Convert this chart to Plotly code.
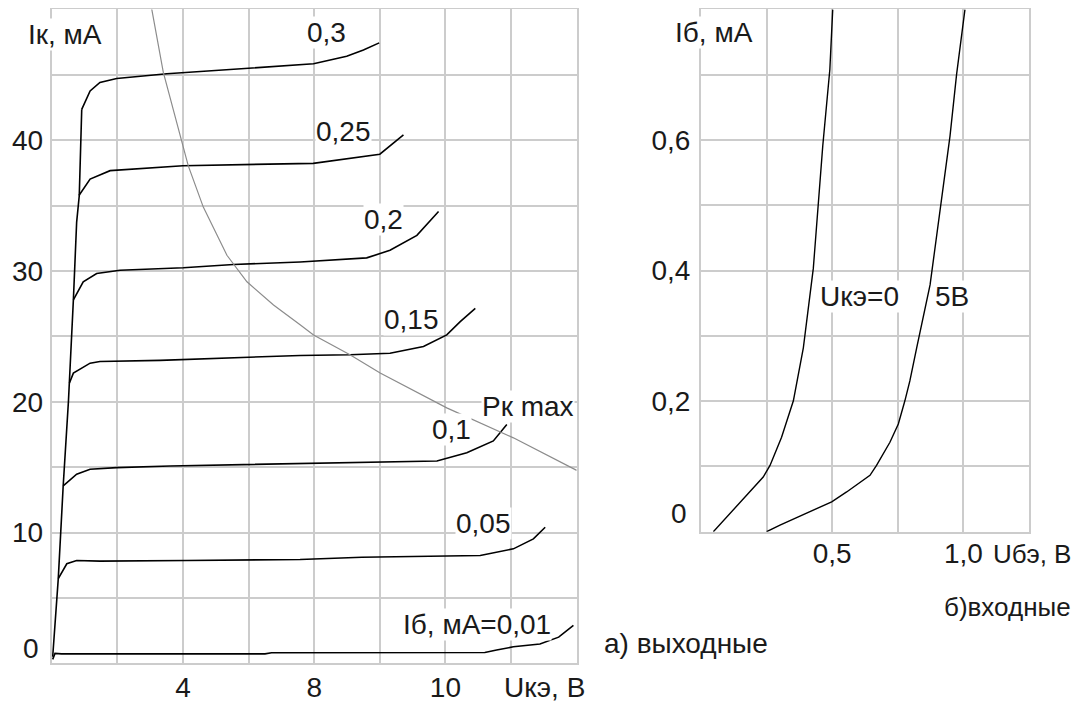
"""
Transistor characteristics: output (Ic vs Uce) and input (Ib vs Ube) curves.
"""
import plotly.graph_objects as go

FONT = "Liberation Sans, Arial, sans-serif"
FS = 28
GRID = "#cccccc"
INK = "#1a1a1a"

# ── Output characteristics (left) ────────────────────────────────────────────
# Uce in V (grid step 2 V), Ic in mA
steep_u = [0.03, 0.20, 0.35, 0.51, 0.66, 0.76, 0.84, 0.915]
steep_i = [0.5, 6.47, 13.57, 20.04, 27.78, 33.74, 35.77, 42.36]

ib001_u = [0.03, 0.10, 0.30, 6.5, 6.7, 13.2, 13.56, 14.07, 14.88, 15.45, 15.9]
ib001_i = [0.3, 0.76, 0.72, 0.72, 0.80, 0.82, 1.01, 1.26, 1.48, 2.0, 2.9]

ib005_u = [0.20, 0.46, 0.76, 1.47, 4.12, 7.57, 9.45, 13.06, 14.07, 14.68, 15.04]
ib005_i = [6.47, 7.61, 7.86, 7.81, 7.86, 7.94, 8.11, 8.24, 8.75, 9.51, 10.40]

ib01_u = [0.35, 0.76, 1.17, 1.98, 3.61, 6.86, 10.01, 11.74, 12.65, 13.46, 13.87]
ib01_i = [13.57, 14.46, 14.84, 14.96, 15.09, 15.22, 15.40, 15.47, 16.10, 17.0, 18.26]

ib015_u = [0.54, 0.66, 1.17, 1.47, 3.30, 5.44, 7.57, 9.09, 10.31, 11.33, 12.04, 12.45, 12.91]
ib015_i = [21.43, 22.19, 22.95, 23.08, 23.16, 23.33, 23.54, 23.59, 23.71, 24.22, 25.11, 26.13, 27.14]

ib02_u = [0.66, 0.96, 1.37, 2.08, 4.01, 5.54, 7.57, 8.99, 9.60, 10.31, 11.13, 11.79]
ib02_i = [27.78, 29.17, 29.80, 30.06, 30.24, 30.49, 30.69, 30.90, 31.0, 31.58, 32.72, 34.55]

ib025_u = [0.83, 1.17, 1.78, 4.0, 7.97, 10.0, 10.72]
ib025_i = [35.77, 37.03, 37.67, 38.05, 38.23, 38.93, 40.41]

ib03_u = [0.915, 1.17, 1.47, 1.98, 3.51, 7.57, 7.98, 8.99, 9.5, 9.98]
ib03_i = [42.36, 43.76, 44.42, 44.72, 45.08, 45.78, 45.84, 46.42, 46.9, 47.44]

pk_u = [2.95, 3.05, 3.40, 4.16, 4.62, 5.34, 5.95, 6.76, 7.57, 7.98, 9.09, 10.01, 12.04, 13.36, 14.07, 16.0]
pk_i = [51.0, 50.0, 45.2, 38.05, 34.88, 31.2, 29.17, 27.40, 25.88, 25.11, 23.59, 22.19, 19.53, 18.0, 17.24, 14.75]

out_curves = [
    (steep_u, steep_i), (ib001_u, ib001_i), (ib005_u, ib005_i), (ib01_u, ib01_i),
    (ib015_u, ib015_i), (ib02_u, ib02_i), (ib025_u, ib025_i), (ib03_u, ib03_i),
]

out_x_grid = [0, 2, 4, 6, 8, 10, 12, 14, 16]
out_x_text = ["", "", "4", "", "8", "", "10", "", ""]
out_y_grid = [0, 5, 10, 15, 20, 25, 30, 35, 40, 45, 50]
out_y_text = ["", "", "10", "", "20", "", "30", "", "40", "", ""]

# ── Input characteristics (right) ────────────────────────────────────────────
# Ube in V (grid step 0.25 V), Ib in mA
uce0_u = [0.047, 0.237, 0.263, 0.307, 0.352, 0.39, 0.428, 0.464, 0.491, 0.502]
uce0_i = [0.0, 0.0837, 0.1015, 0.1446, 0.2005, 0.2816, 0.4033, 0.591, 0.708, 0.80]

uce5_u = [0.25, 0.301, 0.498, 0.555, 0.644, 0.669, 0.72, 0.752, 0.777, 0.796, 0.822, 0.873, 0.949, 0.974, 1.006]
uce5_i = [0.0, 0.0102, 0.0457, 0.0609, 0.0863, 0.1015, 0.137, 0.165, 0.2005, 0.231, 0.2816, 0.378, 0.606, 0.700, 0.80]

in_x_grid = [0, 0.25, 0.5, 0.75, 1.0, 1.25]
in_x_text = ["", "", "0,5", "", "1,0", ""]
in_y_grid = [0, 0.1, 0.2, 0.3, 0.4, 0.5, 0.6, 0.7, 0.8]
in_y_text = ["", "", "0,2", "", "0,4", "", "0,6", "", ""]

fig = go.Figure()

for u, i in out_curves:
    fig.add_trace(go.Scatter(x=u, y=i, mode="lines", xaxis="x", yaxis="y",
                             line=dict(color="black", width=1.6),
                             showlegend=False, hoverinfo="skip"))
fig.add_trace(go.Scatter(x=pk_u, y=pk_i, mode="lines", xaxis="x", yaxis="y",
                         line=dict(color="#8c8c8c", width=1.2),
                         showlegend=False, hoverinfo="skip"))

for u, i in [(uce0_u, uce0_i), (uce5_u, uce5_i)]:
    fig.add_trace(go.Scatter(x=u, y=i, mode="lines", xaxis="x2", yaxis="y2",
                             line=dict(color="black", width=1.4),
                             showlegend=False, hoverinfo="skip"))


def _axis(domain, rng, vals, text, anchor, standoff):
    return dict(
        domain=domain, range=rng, anchor=anchor, automargin=False,
        tickmode="array", tickvals=vals, ticktext=text, ticks="",
        ticklabelstandoff=standoff,
        showgrid=True, gridcolor=GRID, gridwidth=2,
        showline=True, linecolor=GRID, linewidth=2, mirror=True,
        zeroline=False, tickfont=dict(family=FONT, size=FS, color=INK),
        fixedrange=True,
    )


# domains account for the 8px page margin around the figure
fig.update_layout(
    width=1082, height=704,
    margin=dict(l=0, r=0, t=0, b=0, pad=0),
    paper_bgcolor="white", plot_bgcolor="white",
    font=dict(family=FONT, size=FS, color=INK),
    xaxis=_axis([0.0404, 0.5256], [0, 16], out_x_grid, out_x_text, "y", -2),
    yaxis=_axis([0.0692, 0.998], [0, 50], out_y_grid, out_y_text, "x", 1),
    xaxis2=_axis([0.6405, 0.9436], [0, 1.25], in_x_grid, in_x_text, "y2", -4),
    yaxis2=_axis([0.2561, 0.998], [0, 0.8], in_y_grid, in_y_text, "x2", 3),
)

labels_out = [
    ("Iк, мА", 0.40, 48.1), ("0,3", 8.36, 48.2), ("0,25", 8.88, 40.7),
    ("0,2", 10.1, 33.9), ("0,15", 10.98, 26.3), ("Pк max", 14.52, 19.6),
    ("0,1", 12.17, 17.9), ("0,05", 13.15, 10.7), ("Iб, мА=0,01", 12.95, 3.0),
]
for text, x, y in labels_out:
    fig.add_annotation(text=text, x=x, y=y, xref="x", yref="y", showarrow=False,
                       xanchor="center", yanchor="middle",
                       bgcolor="white", borderpad=0)

labels_in = [("Iб, мА", 0.05, 0.764), ("Uкэ=0", 0.605, 0.36), ("5В", 0.956, 0.36)]
for text, x, y in labels_in:
    fig.add_annotation(text=text, x=x, y=y, xref="x2", yref="y2", showarrow=False,
                       xanchor="center", yanchor="middle",
                       bgcolor="white", borderpad=0)

# zero labels sit a little above the bottom grid line
fig.add_annotation(text="0", x=0, y=0, xref="x", yref="y", xanchor="right",
                   yanchor="middle", xshift=-11, yshift=15, showarrow=False)
fig.add_annotation(text="0", x=0, y=0, xref="x2", yref="y2", xanchor="right",
                   yanchor="middle", xshift=-12, yshift=18, showarrow=False)

# axis names and panel captions (paper coords shifted for the 8px page margin)
captions = [
    ("Uкэ, В", 0.4963, 0.0355, "center", FS),
    ("Uбэ, В", 0.9843, 0.2244, "right", 26),
    ("а) выходные", 0.6262, 0.098, "center", FS),
    ("б)входные", 0.9843, 0.1491, "right", 26),
]
for text, x, y, xa, size in captions:
    fig.add_annotation(text=text, x=x, y=y, xref="paper", yref="paper",
                       xanchor=xa, yanchor="middle", showarrow=False,
                       font=dict(size=size))

fig.write_html("out.html")
